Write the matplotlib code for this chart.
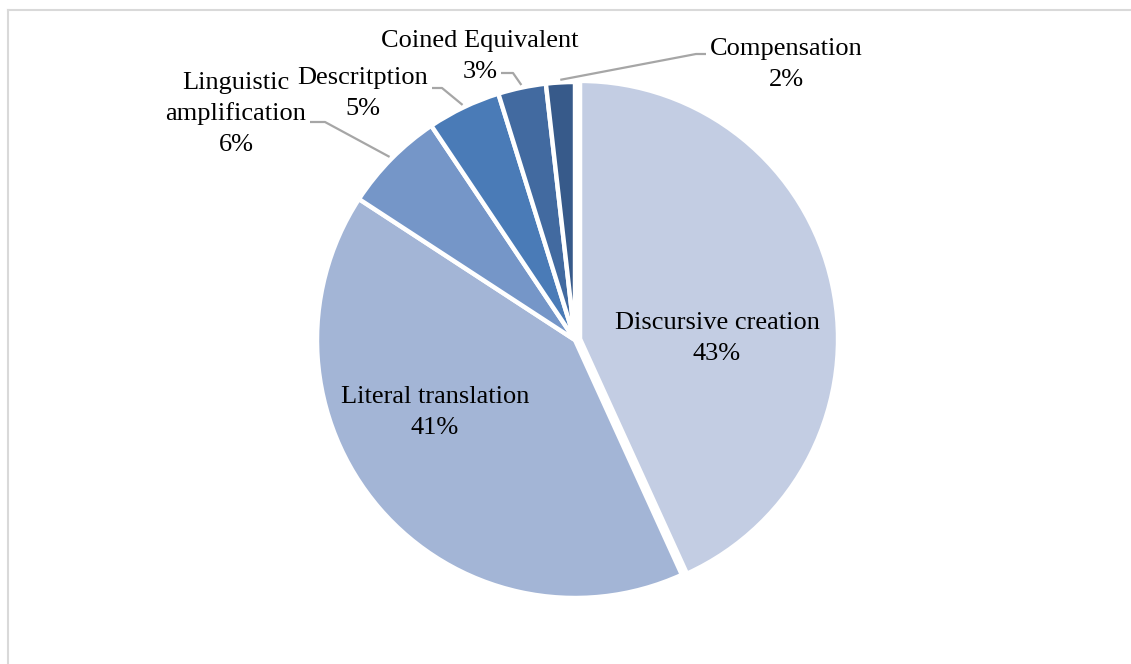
import matplotlib
matplotlib.use("Agg")
import matplotlib.pyplot as plt
from matplotlib.lines import Line2D
import numpy as np

# ---- data ----
categories = ["Discursive creation", "Literal translation", "Linguistic\namplification",
              "Descritption", "Coined Equivalent", "Compensation"]
values = [43.2, 41.0, 6.4, 4.6, 3.0, 1.8]
pct_labels = ["43%", "41%", "6%", "5%", "3%", "2%"]
colors = ["#C3CDE3", "#A3B5D6", "#7596C8", "#4A7BB7", "#426AA0", "#375A8A"]
explode = [0.02, 0, 0, 0, 0, 0]

W, H = 1131, 664
CX, CY, R = 575, 340, 258  # pixel center / radius of the pie

plt.rcParams['font.family'] = ['Liberation Serif', 'DejaVu Serif']

fig = plt.figure(figsize=(W / 100, H / 100), dpi=100)
ax = fig.add_axes([0, 0, 1, 1])

wedges, _ = ax.pie(values, startangle=90, counterclock=False, colors=colors,
                   explode=explode, radius=1.0,
                   wedgeprops=dict(edgecolor="white", linewidth=3.2))
ax.set_aspect('auto')
ax.set_xlim((0 - CX) / R, (W - CX) / R)
ax.set_ylim((CY - H) / R, CY / R)
ax.axis('off')


def px(x, y):
    return (x - CX) / R, (CY - y) / R


fs = 19
LINE = 31  # pixel spacing between label lines


def label(i, x, y_first):
    """Draw label lines one by one; y_first = visual centre of first line (px)."""
    lines = categories[i].split("\n") + [pct_labels[i]]
    for k, s in enumerate(lines):
        tx, ty = px(x, y_first + k * LINE + 8)
        ax.text(tx, ty, s, ha="center", va="baseline", fontsize=fs, color="black")


# inside labels
label(0, 717, 321)
label(1, 435, 395)

# outside labels with leader lines
outside = {
    2: dict(pos=(236, 81), elbow=[(310, 122), (325, 122)]),
    3: dict(pos=(363, 76), elbow=[(432, 88), (442, 88)]),
    4: dict(pos=(480, 39), elbow=[(501, 73), (513, 73)]),
    5: dict(pos=(786, 47), elbow=[(706, 54), (696, 54)]),
}
for i, d in outside.items():
    label(i, *d["pos"])
    w = wedges[i]
    mid = np.deg2rad((w.theta1 + w.theta2) / 2)
    end = (1.01 * np.cos(mid), 1.01 * np.sin(mid))
    pts = [px(*p) for p in d["elbow"]] + [end]
    ax.plot([p[0] for p in pts], [p[1] for p in pts], color="#A6A6A6", lw=1.6,
            solid_capstyle="butt", clip_on=False)

# chart area border (left and top visible)
fig.add_artist(Line2D([7.5 / W, 7.5 / W], [0, 1 - 9.5 / H], transform=fig.transFigure,
                      color="#D9D9D9", lw=1.5))
fig.add_artist(Line2D([7.5 / W, 1], [1 - 9.5 / H, 1 - 9.5 / H], transform=fig.transFigure,
                      color="#D9D9D9", lw=1.5))

fig.savefig("out.png", dpi=100, facecolor="white")
